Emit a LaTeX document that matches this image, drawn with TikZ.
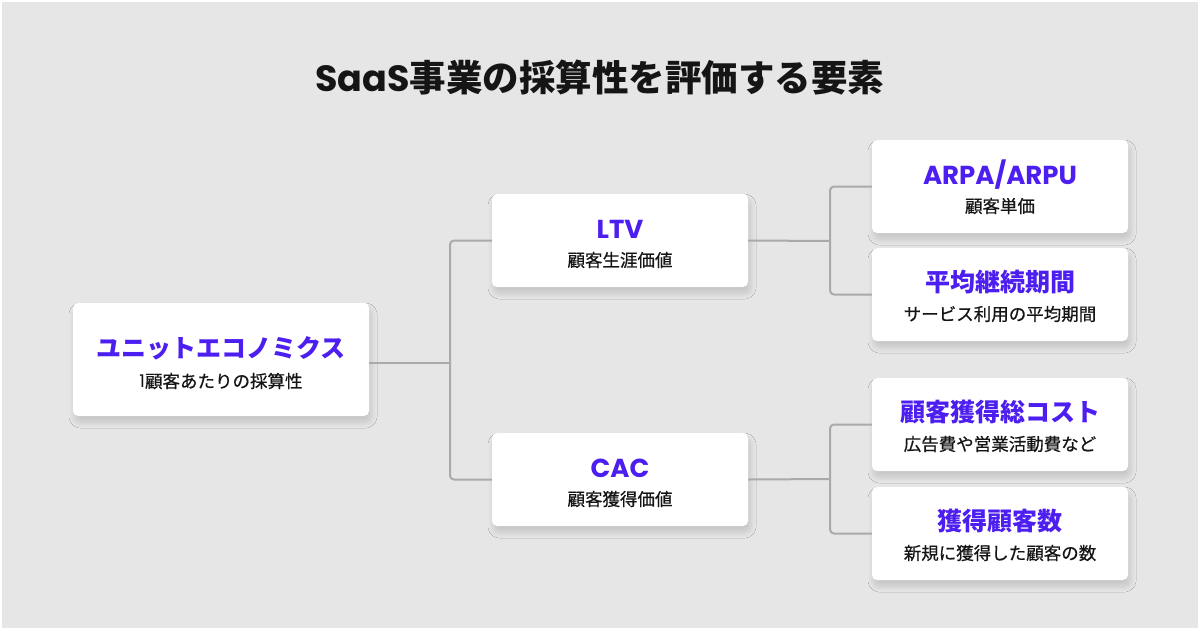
\documentclass[tikz,border=0pt]{standalone}
\usepackage{fontspec}
\setmainfont{Noto Sans CJK JP}
\newfontfamily\jp{Noto Sans CJK JP}
\newfontfamily\jpm{Noto Sans CJK JP}[FakeBold=0.6]
\newfontfamily\pop{Poppins}
\usetikzlibrary{shadows.blur}
\definecolor{bgc}{HTML}{E6E6E6}
\definecolor{linec}{HTML}{AAAAAA}
\definecolor{purp}{HTML}{4D1EF0}
\definecolor{txt}{HTML}{151515}
\tikzset{
  card/.style={fill=white, rounded corners=5pt, draw=none,
    blur shadow={shadow xshift=2pt, shadow yshift=-6pt, shadow blur radius=6pt, shadow opacity=15, shadow blur steps=12}},
  head/.style={font=\jp\bfseries\fontsize{25}{28}\selectfont, text=purp, inner sep=0pt, anchor=center},
  lhead/.style={font=\pop\bfseries\fontsize{26}{28}\selectfont, text=purp, inner sep=0pt, anchor=center},
  sub/.style={font=\jpm\fontsize{17.5}{20}\selectfont, text=txt, inner sep=0pt, anchor=center},
  conn/.style={draw=linec, line width=2pt, rounded corners=4pt},
  box/.style={inner sep=0pt, minimum width=256pt, minimum height=93pt},
}
\begin{document}
\begin{tikzpicture}[x=1pt,y=-1pt]
\fill[white] (0,0) rectangle (1200,630);
\fill[bgc] (2,2) rectangle (1198,628);
\useasboundingbox (0,0) rectangle (1200,630);
\node[font=\jp\bfseries\fontsize{36.5}{40}\selectfont, text=txt, inner sep=0pt] (title) at (600,78) {{\pop SaaS}事業の採算性を評価する要素};

\coordinate (j1) at (450,363);
\coordinate (j2) at (830,241);
\coordinate (j3) at (830,479);

% cards
\path[card] (73,303) rectangle (369,416);
\path[card] (492,194) rectangle (748,287);
\path[card] (492,433) rectangle (748,526);
\path[card] (872,140) rectangle (1128,233);
\path[card] (872,248) rectangle (1128,341);
\path[card] (872,378) rectangle (1128,471);
\path[card] (872,487) rectangle (1128,580);

\node[inner sep=0pt, minimum width=296pt, minimum height=113pt] (root) at (221,359.5) {};
\node[box] (ltv) at (620,240.5) {};
\node[box] (cac) at (620,479.5) {};
\node[box] (arpa) at (1000,186.5) {};
\node[box] (per) at (1000,294.5) {};
\node[box] (cost) at (1000,424.5) {};
\node[box] (num) at (1000,533.5) {};

\draw[conn] (root.east |- j1) -- (j1);
\draw[conn] (ltv.west) -- (ltv.west -| j1) -- (cac.west -| j1) -- (cac.west);
\draw[conn] (ltv.east) -- (j2);
\draw[conn] (arpa.west) -- (arpa.west -| j2) -- (per.west -| j2) -- (per.west);
\draw[conn] (cac.east) -- (j3);
\draw[conn] (cost.west) -- (cost.west -| j3) -- (num.west -| j3) -- (num.west);

% texts
\node[head] (rootH) at (221,348) {ユニットエコノミクス};
\node[sub] (rootS) at (221,381) {{\pop 1}顧客あたりの採算性};
\node[lhead] (ltvH) at (620,229) {LTV};
\node[sub] (ltvS) at (620,260) {顧客生涯価値};
\node[lhead] (cacH) at (620,468) {CAC};
\node[sub] (cacS) at (620,499) {顧客獲得価値};
\node[lhead] (arpaH) at (1000,175) {ARPA/ARPU};
\node[sub] (arpaS) at (1000,206) {顧客単価};
\node[head] (perH) at (1000,282) {平均継続期間};
\node[sub] (perS) at (1000,314) {サービス利用の平均期間};
\node[head] (costH) at (1000,412) {顧客獲得総コスト};
\node[sub] (costS) at (1000,444) {広告費や営業活動費など};
\node[head] (numH) at (1000,521) {獲得顧客数};
\node[sub] (numS) at (1000,553) {新規に獲得した顧客の数};
\end{tikzpicture}
\end{document}
